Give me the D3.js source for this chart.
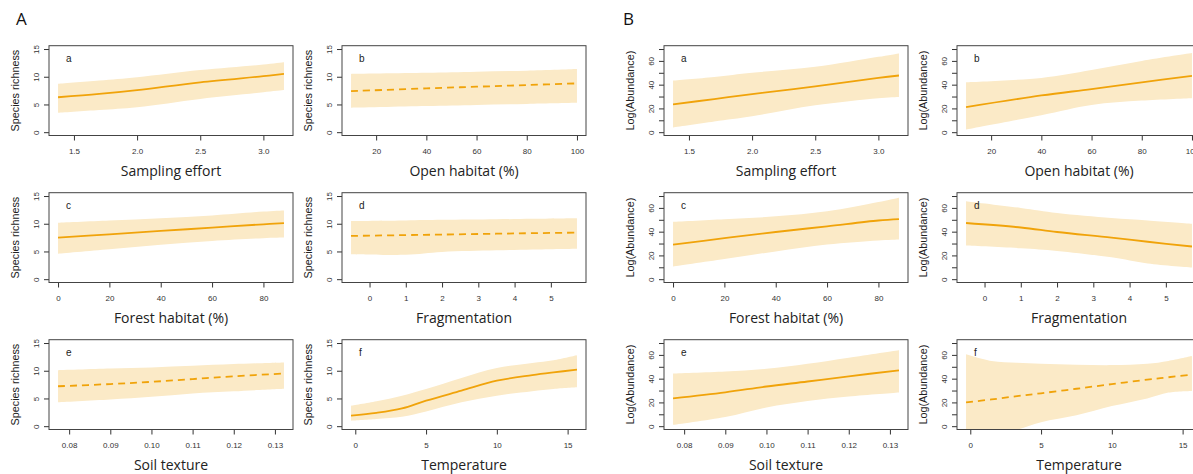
<!DOCTYPE html>
<html>
<head>
<meta charset="utf-8">
<script src="https://cdn.jsdelivr.net/npm/d3@7"></script>
<style>
  body { margin: 0; background: #fff; }
  svg { display: block; }
</style>
</head>
<body>
<div id="chart"></div>
<script>
// x positions where the fitted curves were read, one array per predictor
var xSampling = [1.374, 1.7, 2.0, 2.5, 3.0, 3.163];
var xOpen = [10, 40, 60, 80, 100];
var xForest = [0, 20, 40, 60, 80, 88];
var xFrag = [-0.51, 1, 2, 3.5, 4.5, 5.72];
var xSoil = [0.0773, 0.09, 0.10, 0.11, 0.12, 0.1322];
var xTemp = [-0.3, 1.5, 3.3, 5, 7.5, 10, 12.5, 14, 15.66];

// A: species richness (fit, lower, upper)
var richSamplingFit = [6.3, 6.9, 7.6, 9.0, 10.1, 10.5];
var richSamplingLo = [3.5, 4.0, 4.5, 6.0, 7.2, 7.6];
var richSamplingHi = [8.7, 9.3, 9.9, 11.2, 12.2, 12.6];
var richOpenFit = [7.4, 7.9, 8.2, 8.5, 8.8];
var richOpenLo = [4.4, 4.7, 4.9, 5.1, 5.3];
var richOpenHi = [10.5, 10.7, 10.9, 11.1, 11.4];
var richForestFit = [7.5, 8.1, 8.7, 9.3, 9.9, 10.1];
var richForestLo = [4.6, 5.4, 6.2, 6.9, 7.4, 7.5];
var richForestHi = [10.2, 10.6, 11.0, 11.5, 12.2, 12.4];
var richFragFit = [7.8, 7.95, 8.05, 8.2, 8.3, 8.4];
var richFragLo = [4.5, 4.4, 4.9, 5.2, 5.35, 5.5];
var richFragHi = [10.5, 10.6, 10.7, 10.8, 10.9, 11.0];
var richSoilFit = [7.2, 7.6, 8.0, 8.5, 9.0, 9.5];
var richSoilLo = [4.3, 4.8, 5.3, 5.9, 6.3, 6.75];
var richSoilHi = [10.1, 10.4, 10.6, 10.9, 11.2, 11.5];
var richTempFit = [1.9, 2.4, 3.2, 4.6, 6.4, 8.2, 9.2, 9.7, 10.2];
var richTempLo = [1.0, 1.3, 1.7, 2.65, 4.3, 5.5, 6.3, 6.7, 7.0];
var richTempHi = [3.7, 4.5, 5.5, 6.7, 8.7, 10.5, 11.4, 11.9, 12.8];

// B: log(abundance) (fit, lower, upper)
var abunSamplingFit = [23.4, 27.9, 32, 38.6, 45.7, 47.7];
var abunSamplingLo = [4, 9, 13.4, 22.6, 28.6, 29.7];
var abunSamplingHi = [43.4, 46.5, 50, 55, 63.4, 66.3];
var abunOpenFit = [21.1, 30.9, 36.3, 42, 47.4];
var abunOpenLo = [2.3, 14.3, 22.9, 26.6, 28.6];
var abunOpenHi = [42, 45.7, 52.3, 60, 66.6];
var abunForestFit = [29.1, 34.5, 39.7, 44.5, 49.4, 50.6];
var abunForestLo = [10.6, 16.9, 23.4, 29.1, 32.6, 33.4];
var abunForestHi = [48.3, 50.5, 52.9, 57.1, 64.9, 68.6];
var abunFragFit = [47.3, 43.5, 39.7, 35, 31.5, 27.5];
var abunFragLo = [28.3, 26, 23.8, 18.4, 13.3, 9.9];
var abunFragHi = [65.7, 60, 55.8, 51.6, 49.5, 46.7];
var abunSoilFit = [23.4, 28.5, 33.4, 37.6, 42, 47];
var abunSoilLo = [1.1, 7.7, 15.7, 21.1, 24.9, 28.3];
var abunSoilHi = [44.3, 46, 48.3, 52.6, 57.7, 64];
var abunTempFit = [20, 22.5, 25.3, 27.7, 31.5, 35.4, 39.2, 41.2, 43.4];
var abunTempLo = [-15, -9, -3, 3.4, 9.1, 16.9, 23.4, 28.3, 29.7];
var abunTempHi = [60.6, 54.9, 53.5, 52.6, 51.8, 51.4, 52.5, 54.9, 59];

// tick labels
var ticksSampling = [1.5, 2.0, 2.5, 3.0];
var ticksOpen = [20, 40, 60, 80, 100];
var ticksForest = [0, 20, 40, 60, 80];
var ticksFrag = [0, 1, 2, 3, 4, 5];
var ticksSoil = [0.08, 0.09, 0.10, 0.11, 0.12, 0.13];
var ticksTemp = [0, 5, 10, 15];
var ticksRich = [0, 5, 10, 15];
var ticksAbun = [0, 10, 20, 30, 40, 50, 60, 70];
var labelsAbun = [0, 20, 40, 60];

var lineCol = "#f0a30a", bandCol = "#fbeac7", ink = "#333";

var W = 1193, H = 474;
var boxW = 244, boxH = 89.8;
var rowTop = [45.7, 192.7, 339.7];

var svg = d3.select("#chart").append("svg")
  .attr("width", W).attr("height", H)
  .style("font-family", "'Liberation Sans', Arial, sans-serif");
svg.append("rect").attr("width", W).attr("height", H).attr("fill", "#fff");

var defs = svg.append("defs");

function pad(ext) {
  var r = ext[1] - ext[0];
  return [ext[0] - 0.04 * r, ext[1] + 0.04 * r];
}

//panel table built from the arrays above
var predictors = [
  {x: xSampling, ticks: ticksSampling, fmt: d3.format(".1f"), title: "Sampling effort", letter: "a", col: 0, row: 0},
  {x: xOpen, ticks: ticksOpen, fmt: d3.format("d"), title: "Open habitat (%)", letter: "b", col: 1, row: 0},
  {x: xForest, ticks: ticksForest, fmt: d3.format("d"), title: "Forest habitat (%)", letter: "c", col: 0, row: 1},
  {x: xFrag, ticks: ticksFrag, fmt: d3.format("d"), title: "Fragmentation", letter: "d", col: 1, row: 1},
  {x: xSoil, ticks: ticksSoil, fmt: d3.format(".2f"), title: "Soil texture", letter: "e", col: 0, row: 2},
  {x: xTemp, ticks: ticksTemp, fmt: d3.format("d"), title: "Temperature", letter: "f", col: 1, row: 2}
];

var groups = [
  {name: "A", labelX: 16, cols: [49, 342], yTitle: "Species richness",
   yDomain: [0, 15], yTicks: ticksRich, yLabels: ticksRich,
   fits: [richSamplingFit, richOpenFit, richForestFit, richFragFit, richSoilFit, richTempFit],
   los: [richSamplingLo, richOpenLo, richForestLo, richFragLo, richSoilLo, richTempLo],
   his: [richSamplingHi, richOpenHi, richForestHi, richFragHi, richSoilHi, richTempHi],
   dashed: [false, true, false, true, true, false]},
  {name: "B", labelX: 623, cols: [664, 957], yTitle: "Log(Abundance)",
   yDomain: [0, 70], yTicks: ticksAbun, yLabels: labelsAbun,
   fits: [abunSamplingFit, abunOpenFit, abunForestFit, abunFragFit, abunSoilFit, abunTempFit],
   los: [abunSamplingLo, abunOpenLo, abunForestLo, abunFragLo, abunSoilLo, abunTempLo],
   his: [abunSamplingHi, abunOpenHi, abunForestHi, abunFragHi, abunSoilHi, abunTempHi],
   dashed: [false, false, false, false, false, true]}
];

groups.forEach(function(g, gi) {
  svg.append("text")
    .attr("x", g.labelX).attr("y", 24.5)
    .style("font-family", "'Open Sans', sans-serif")
    .style("font-size", "17px").attr("fill", "#111")
    .text(g.name);

  predictors.forEach(function(p, pi) {
    var left = g.cols[p.col], top = rowTop[p.row];
    var x = d3.scaleLinear().domain(pad(d3.extent(p.x))).range([0, boxW]);
    var y = d3.scaleLinear().domain(pad(g.yDomain)).range([boxH, 0]);
    var pts = p.x.map(function(v, i) {
      return {x: v, fit: g.fits[pi][i], lo: g.los[pi][i], hi: g.his[pi][i]};
    });

    var clipId = "clip" + gi + "_" + pi;
    defs.append("clipPath").attr("id", clipId)
      .append("rect").attr("width", boxW).attr("height", boxH);

    var panel = svg.append("g").attr("transform", "translate(" + left + "," + top + ")");
    var plot = panel.append("g").attr("clip-path", "url(#" + clipId + ")");

    plot.append("path").datum(pts)
      .attr("fill", bandCol)
      .attr("d", d3.area().curve(d3.curveCatmullRom)
        .x(function(d) { return x(d.x); })
        .y0(function(d) { return y(d.lo); })
        .y1(function(d) { return y(d.hi); }));

    plot.append("path").datum(pts)
      .attr("fill", "none").attr("stroke", lineCol).attr("stroke-width", 1.8)
      .attr("stroke-dasharray", g.dashed[pi] ? "7,5" : null)
      .attr("d", d3.line().curve(d3.curveCatmullRom)
        .x(function(d) { return x(d.x); })
        .y(function(d) { return y(d.fit); }));

    // x axis
    var xa = panel.append("g").attr("transform", "translate(0," + boxH + ")")
      .call(d3.axisBottom(x).tickValues(p.ticks).tickFormat(p.fmt).tickSize(5).tickSizeOuter(0));
    xa.select(".domain").remove();
    xa.selectAll("line").attr("stroke", ink);
    xa.selectAll("text").attr("y", 18).attr("dy", null)
      .style("font-size", "8px").attr("fill", ink);

    // y axis, labels parallel to the axis like R
    var ya = panel.append("g")
      .call(d3.axisLeft(y).tickValues(g.yTicks).tickSize(5).tickSizeOuter(0));
    ya.select(".domain").remove();
    ya.selectAll("line").attr("stroke", ink);
    ya.selectAll("text")
      .text(function(d) { return g.yLabels.indexOf(d) >= 0 ? d : ""; })
      .attr("transform", "rotate(-90)")
      .attr("x", 0).attr("y", -10.5).attr("dy", null)
      .attr("text-anchor", "middle")
      .style("font-size", "8px").attr("fill", ink);

    panel.append("rect")
      .attr("width", boxW).attr("height", boxH)
      .attr("fill", "none").attr("stroke", "#444").attr("stroke-width", 1);

    panel.append("text")
      .attr("x", 17).attr("y", 16)
      .style("font-size", "10px").attr("fill", "#222")
      .text(p.letter);

    panel.append("text")
      .attr("x", boxW / 2).attr("y", boxH + 41)
      .attr("text-anchor", "middle")
      .style("font-family", "'Open Sans', sans-serif")
      .style("font-size", "14px").attr("fill", "#222")
      .text(p.title);

    panel.append("text")
      .attr("transform", "translate(-30.5," + (boxH / 2) + ") rotate(-90)")
      .attr("text-anchor", "middle")
      .style("font-size", "10.8px").attr("fill", "#222")
      .text(g.yTitle);
  });
});
</script>
</body>
</html>
